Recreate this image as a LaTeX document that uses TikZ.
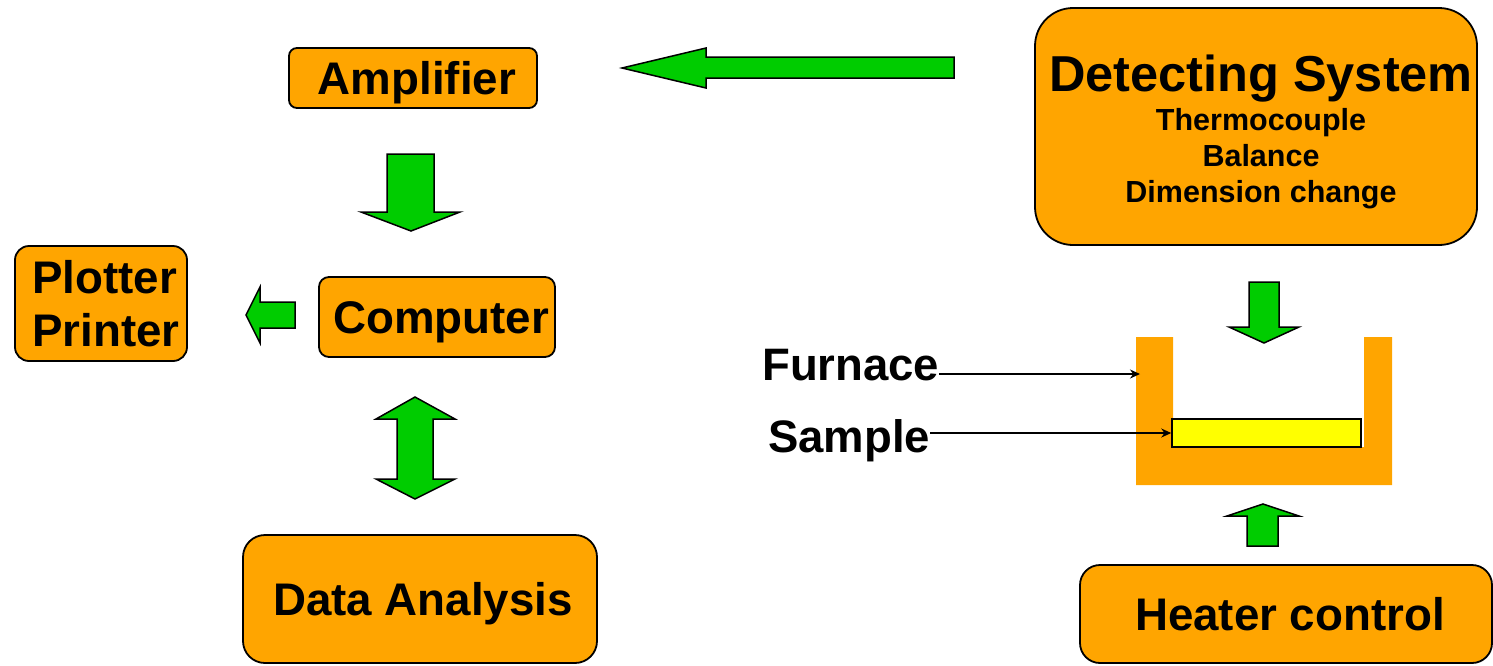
\documentclass[tikz,border=0pt]{standalone}
\usepackage{fontspec}
\setmainfont{Liberation Sans}
\usepackage{xcolor}
\usepackage{tikz}
\usetikzlibrary{positioning,arrows.meta}

\definecolor{boxorange}{RGB}{255,165,0}
\definecolor{arrowgreen}{RGB}{0,204,0}
\definecolor{sampleyellow}{RGB}{255,255,0}

\tikzset{
  box/.style={draw, line width=1.8pt, fill=boxorange, inner sep=0pt,
    font=\bfseries\fontsize{45.7}{53}\selectfont},
  oneline/.style={text height=33pt, text depth=0pt},
  tag/.style={inner sep=0pt, font=\bfseries\fontsize{45.5}{53}\selectfont},
  blockarrow/.style={draw, line width=1.5pt, fill=arrowgreen, line join=miter},
  pointer/.style={-{Stealth[length=10pt,width=9pt]}, line width=1.3pt}
}

\begin{document}
\begin{tikzpicture}[x=1pt, y=-1pt]
\useasboundingbox (0,0) rectangle (1493,665);

\node[box, oneline, rounded corners=8pt, minimum width=248pt, minimum height=60pt] (amp) at (413,78) {\hspace*{8pt}Amplifier};
\node[box, oneline, rounded corners=10pt, minimum width=236pt, minimum height=80pt] (comp) at (437,317) {\hspace*{8pt}Computer};
\node[box, rounded corners=14pt, minimum width=172pt, minimum height=115pt, align=left] (plot) at (101,303.5) {\hspace*{10pt}Plotter\\\hspace*{10pt}Printer};
\node[box, oneline, rounded corners=22pt, minimum width=354pt, minimum height=128pt] (data) at (420,599) {\hspace*{6pt}Data Analysis};
\node[box, rounded corners=38pt, minimum width=442pt, minimum height=237pt, align=center,
  font=\bfseries\fontsize{30.5}{36}\selectfont] (detect) at (1256,126.5)
  {{\fontsize{50.5}{50}\selectfont\rule{0pt}{47pt}\hspace*{10pt}Detecting System}\\[3pt]\hspace*{10pt}Thermocouple\\\hspace*{10pt}Balance\\\hspace*{10pt}Dimension change};
\node[box, oneline, rounded corners=20pt, minimum width=412pt, minimum height=98pt] (heater) at (1286,614) {\hspace*{8pt}Heater control};

\fill[boxorange] (1136,337) -- (1173,337) -- (1173,447) -- (1364,447) -- (1364,337)
  -- (1392,337) -- (1392,485) -- (1136,485) -- cycle;
\node[draw, line width=1.5pt, fill=sampleyellow, inner sep=0pt, minimum width=189pt, minimum height=28pt] (sample) at (1266.5,433) {};

\node[tag, anchor=base west] (furnacelbl) at (762,380) {Furnace};
\node[tag, anchor=base west] (samplelbl) at (768,452) {Sample};
\coordinate (furnacewall) at (1140,374);
\draw[pointer] (furnacelbl.east |- furnacewall) -- (furnacewall);
\draw[pointer] (samplelbl.east |- sample.west) -- (sample.west);

\draw[blockarrow] (954,57) -- (706,57) -- (706,48) -- (622,68) -- (706,88) -- (706,78) -- (954,78) -- cycle;
\draw[blockarrow] (387,154) -- (434,154) -- (434,212) -- (460,212) -- (411,231) -- (361,212) -- (387,212) -- cycle;
\draw[blockarrow] (295,302) -- (260,302) -- (260,287) -- (246,315) -- (260,343) -- (260,328) -- (295,328) -- cycle;
\draw[blockarrow] (397,419) -- (376,419) -- (415,397) -- (455,419) -- (433,419) -- (433,479)
  -- (455,479) -- (415,499) -- (376,479) -- (397,479) -- cycle;
\draw[blockarrow] (1249,282) -- (1279,282) -- (1279,327) -- (1299,327) -- (1264,343) -- (1229,327) -- (1249,327) -- cycle;
\draw[blockarrow] (1247,546) -- (1247,516) -- (1227,516) -- (1263,504) -- (1299,516) -- (1278,516) -- (1278,546) -- cycle;

\end{tikzpicture}
\end{document}
